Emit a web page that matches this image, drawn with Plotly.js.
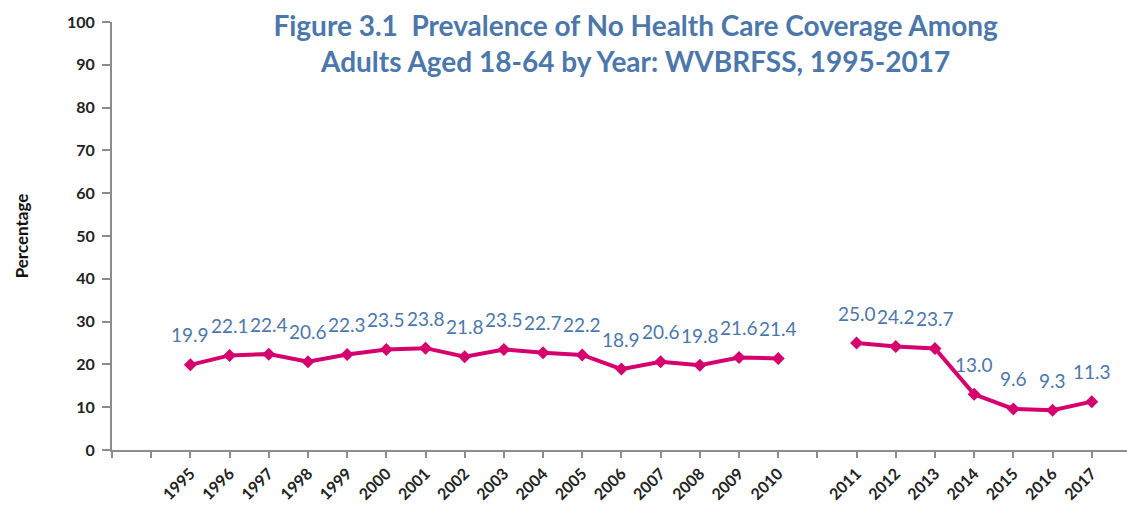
<!DOCTYPE html>
<html>
<head>
<meta charset="utf-8">
<script src="https://cdn.plot.ly/plotly-3.0.1.min.js"></script>
<style>html,body{margin:0;padding:0;background:#fff;}#chart{width:1127px;height:509px;}</style>
</head>
<body>
<div id="chart"></div>
<script>
// Survey years and prevalence values (%)
const yearsA = ['1995','1996','1997','1998','1999','2000','2001','2002','2003','2004','2005','2006','2007','2008','2009','2010'];
const valuesA = [19.9, 22.1, 22.4, 20.6, 22.3, 23.5, 23.8, 21.8, 23.5, 22.7, 22.2, 18.9, 20.6, 19.8, 21.6, 21.4];
const yearsB = ['2011','2012','2013','2014','2015','2016','2017'];
const valuesB = [25.0, 24.2, 23.7, 13.0, 9.6, 9.3, 11.3];
// Blank category slots on the axis (as in the original Excel chart)
const leadBlanks = ['\u2002', '\u2003'];
const gapBlank = ['\u2009'];
const tailBlank = ['\u200a'];

const categories = [...leadBlanks, ...yearsA, ...gapBlank, ...yearsB, ...tailBlank];

const lineColor = '#d5006d';
const labelColor = '#4c77ab';
const fontFam = 'Lato, "Open Sans", sans-serif';

const lineStyle = {color: lineColor, width: 4};
const markerStyle = {symbol: 'diamond', size: 10, color: lineColor};

const traces = [
  {x: categories, y: categories.map(() => null), type: 'scatter', mode: 'lines',
   showlegend: false, hoverinfo: 'skip', line: {color: 'rgba(0,0,0,0)'}},
  {x: yearsA, y: valuesA, type: 'scatter', mode: 'lines+markers', line: lineStyle, marker: markerStyle, showlegend: false},
  {x: yearsB, y: valuesB, type: 'scatter', mode: 'lines+markers', line: lineStyle, marker: markerStyle, showlegend: false}
];

// Data labels: annotation x is the category's serial index on the category axis
const allYears = [...yearsA, ...yearsB];
const allValues = [...valuesA, ...valuesB];
const annotations = allYears.map((yr, i) => ({
  x: categories.indexOf(yr), y: allValues[i], xref: 'x', yref: 'y',
  text: allValues[i].toFixed(1), showarrow: false, yshift: 30,
  font: {family: fontFam, size: 19, color: labelColor}
}));

const layout = {
  width: 1127, height: 509,
  margin: {l: 112, r: 0, t: 22, b: 59},
  paper_bgcolor: '#fff', plot_bgcolor: '#fff',
  title: {
    text: 'Figure 3.1  Prevalence of No Health Care Coverage Among<br>Adults Aged 18-64 by Year: WVBRFSS, 1995-2017',
    font: {family: fontFam, size: 28, color: labelColor, weight: 'bold'},
    x: 0.564, xanchor: 'center', xref: 'container',
    y: 0.93, yanchor: 'top', yref: 'container'
  },
  xaxis: {
    type: 'category', categoryorder: 'array', categoryarray: categories,
    range: [0, 25.9], autorange: false,
    showgrid: false, zeroline: false,
    showline: true, linecolor: '#8c8c8c', linewidth: 2,
    ticks: 'outside', ticklen: 6, tickcolor: '#8c8c8c', tickwidth: 2,
    tickmode: 'linear', dtick: 1, tick0: 0,
    tickangle: -45,
    tickfont: {family: fontFam, size: 16, color: '#222', weight: 'bold'}
  },
  yaxis: {
    range: [0, 100], autorange: false,
    tickmode: 'linear', tick0: 0, dtick: 10,
    showgrid: false, zeroline: false,
    showline: true, linecolor: '#8c8c8c', linewidth: 2,
    ticks: 'outside', ticklen: 8, tickcolor: '#8c8c8c', tickwidth: 2,
    ticklabelstandoff: 4,
    tickfont: {family: fontFam, size: 16, color: '#222', weight: 'bold'},
    title: {text: 'Percentage', standoff: 34,
            font: {family: fontFam, size: 17, color: '#111', weight: 'bold'}}
  },
  annotations: annotations
};

Plotly.newPlot('chart', traces, layout, {displayModeBar: false, staticPlot: true});
</script>
</body>
</html>
